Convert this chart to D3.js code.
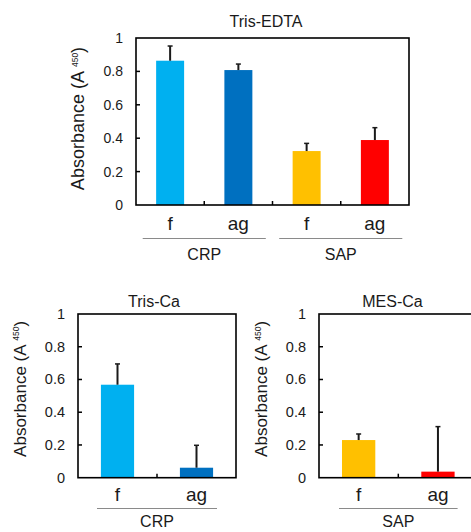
<!DOCTYPE html>
<html>
<head>
<meta charset="utf-8">
<script src="https://cdn.jsdelivr.net/npm/d3@7"></script>
<style>
  html, body { margin: 0; padding: 0; background: #fff; }
  svg { display: block; }
  text { font-family: "Liberation Sans", Arial, sans-serif; fill: #1a1a1a; }
</style>
</head>
<body>
<svg id="chart" width="471" height="532"></svg>
<script>
// ---- data ----
const titles = ["Tris-EDTA", "Tris-Ca", "MES-Ca"];
const topCategories = ["f", "ag", "f", "ag"];
const topGroups = ["CRP", "SAP"];
const trisEdtaValues = [0.864, 0.808, 0.323, 0.389];
const trisEdtaErrors = [0.088, 0.036, 0.046, 0.074];
const trisCaCategories = ["f", "ag"];
const trisCaGroups = ["CRP"];
const trisCaValues = [0.568, 0.061];
const trisCaErrors = [0.127, 0.137];
const mesCaCategories = ["f", "ag"];
const mesCaGroups = ["SAP"];
const mesCaValues = [0.23, 0.037];
const mesCaErrors = [0.037, 0.275];
const yTicks = [0, 0.2, 0.4, 0.6, 0.8, 1];
const yTickLabels = ["0", "0.2", "0.4", "0.6", "0.8", "1"];
const yLabelMain = "Absorbance (A ";
const yLabelSub = "450";

const crpColors = ["#00B0F0", "#0070C0"];
const sapColors = ["#FFC000", "#FF0000"];

const svg = d3.select("#chart");

function drawPanel(cfg) {
  const g = svg.append("g");
  const x = d3.scaleBand().domain(d3.range(cfg.categories.length)).range([cfg.x0, cfg.x1]).padding(0);
  const y = d3.scaleLinear().domain([0, 1]).range([cfg.y0, cfg.y1]);
  const bw = x.bandwidth() * cfg.barFrac;

  // bars
  g.selectAll("rect.bar").data(cfg.values).join("rect")
    .attr("x", (d, i) => x(i) + (x.bandwidth() - bw) / 2)
    .attr("y", d => y(d))
    .attr("width", bw)
    .attr("height", d => y(0) - y(d))
    .attr("fill", (d, i) => cfg.colors[i]);

  // error bars (upper only)
  cfg.values.forEach((v, i) => {
    const cx = x(i) + x.bandwidth() / 2;
    g.append("line").attr("x1", cx).attr("x2", cx)
      .attr("y1", y(v)).attr("y2", y(v + cfg.errors[i]))
      .attr("stroke", "#1a1a1a").attr("stroke-width", 2);
    g.append("line").attr("x1", cx - 2.5).attr("x2", cx + 2.5)
      .attr("y1", y(v + cfg.errors[i])).attr("y2", y(v + cfg.errors[i]))
      .attr("stroke", "#1a1a1a").attr("stroke-width", 1.5);
  });

  // y ticks inward
  yTicks.forEach((t, i) => {
    if (t > 0 && t < 1) {
      g.append("line").attr("x1", cfg.x0).attr("x2", cfg.x0 + 4)
        .attr("y1", y(t)).attr("y2", y(t)).attr("stroke", "#000").attr("stroke-width", 1.5);
    }
    g.append("text").attr("x", cfg.x0 - 13).attr("y", y(t))
      .attr("text-anchor", "end").attr("dominant-baseline", "central")
      .attr("font-size", cfg.tickFs).text(yTickLabels[i]);
  });

  // x ticks at inner band boundaries
  for (let i = 1; i < cfg.categories.length; i++) {
    g.append("line").attr("x1", x(i)).attr("x2", x(i))
      .attr("y1", y(0)).attr("y2", y(0) - 4).attr("stroke", "#000").attr("stroke-width", 1.5);
  }

  // frame
  g.append("rect").attr("x", cfg.x0).attr("y", y(1))
    .attr("width", cfg.x1 - cfg.x0).attr("height", y(0) - y(1))
    .attr("fill", "none").attr("stroke", "#000").attr("stroke-width", 1.6);

  // category labels
  cfg.categories.forEach((c, i) => {
    g.append("text").attr("x", x(i) + x.bandwidth() / 2).attr("y", y(0) + cfg.catDy)
      .attr("text-anchor", "middle").attr("font-size", 19).text(c);
  });

  // group lines + labels
  const per = cfg.categories.length / cfg.groups.length;
  cfg.groups.forEach((gr, k) => {
    const gx0 = x(k * per) + cfg.lineInset;
    const gx1 = x(k * per + per - 1) + x.bandwidth() - cfg.lineInset;
    g.append("line").attr("x1", gx0).attr("x2", gx1)
      .attr("y1", cfg.lineY).attr("y2", cfg.lineY)
      .attr("stroke", "#8a8a8a").attr("stroke-width", 1.2);
    g.append("text").attr("x", (gx0 + gx1) / 2).attr("y", cfg.groupY)
      .attr("text-anchor", "middle").attr("font-size", 16).text(gr);
  });

  // title
  g.append("text").attr("x", cfg.titleX).attr("y", cfg.titleY)
    .attr("text-anchor", "middle").attr("font-size", 16).text(cfg.title);

  // y label
  const yl = g.append("text")
    .attr("transform", `translate(${cfg.ylabX},${(y(0) + y(1)) / 2 + cfg.ylabDy}) rotate(-90)`)
    .attr("text-anchor", "middle").attr("dominant-baseline", "central")
    .attr("font-size", cfg.ylabFs);
  yl.append("tspan").text(yLabelMain);
  yl.append("tspan").attr("font-size", 8.5).attr("dy", -3.5).text(yLabelSub);
  yl.append("tspan").attr("dy", 3.5).text(")");
}

drawPanel({
  title: titles[0], categories: topCategories, groups: topGroups,
  values: trisEdtaValues, errors: trisEdtaErrors,
  colors: crpColors.concat(sapColors),
  x0: 136, x1: 409, y0: 205, y1: 38, barFrac: 0.41,
  catDy: 25, lineY: 238.5, lineInset: 6.7, groupY: 260,
  titleX: 266, titleY: 27, ylabX: 78, ylabDy: -3, ylabFs: 18, tickFs: 14
});
drawPanel({
  title: titles[1], categories: trisCaCategories, groups: trisCaGroups,
  values: trisCaValues, errors: trisCaErrors, colors: crpColors,
  x0: 78, x1: 236, y0: 477.7, y1: 314, barFrac: 0.42,
  catDy: 23, lineY: 508.5, lineInset: 19, groupY: 527,
  titleX: 154, titleY: 306.5, ylabX: 19.5, ylabDy: -7, ylabFs: 17, tickFs: 14.5
});
drawPanel({
  title: titles[2], categories: mesCaCategories, groups: mesCaGroups,
  values: mesCaValues, errors: mesCaErrors, colors: sapColors,
  x0: 319, x1: 477.6, y0: 477.7, y1: 314, barFrac: 0.42,
  catDy: 23, lineY: 508.5, lineInset: 20, groupY: 527,
  titleX: 392.5, titleY: 306.5, ylabX: 261, ylabDy: -7, ylabFs: 17, tickFs: 14.5
});
</script>
</body>
</html>
